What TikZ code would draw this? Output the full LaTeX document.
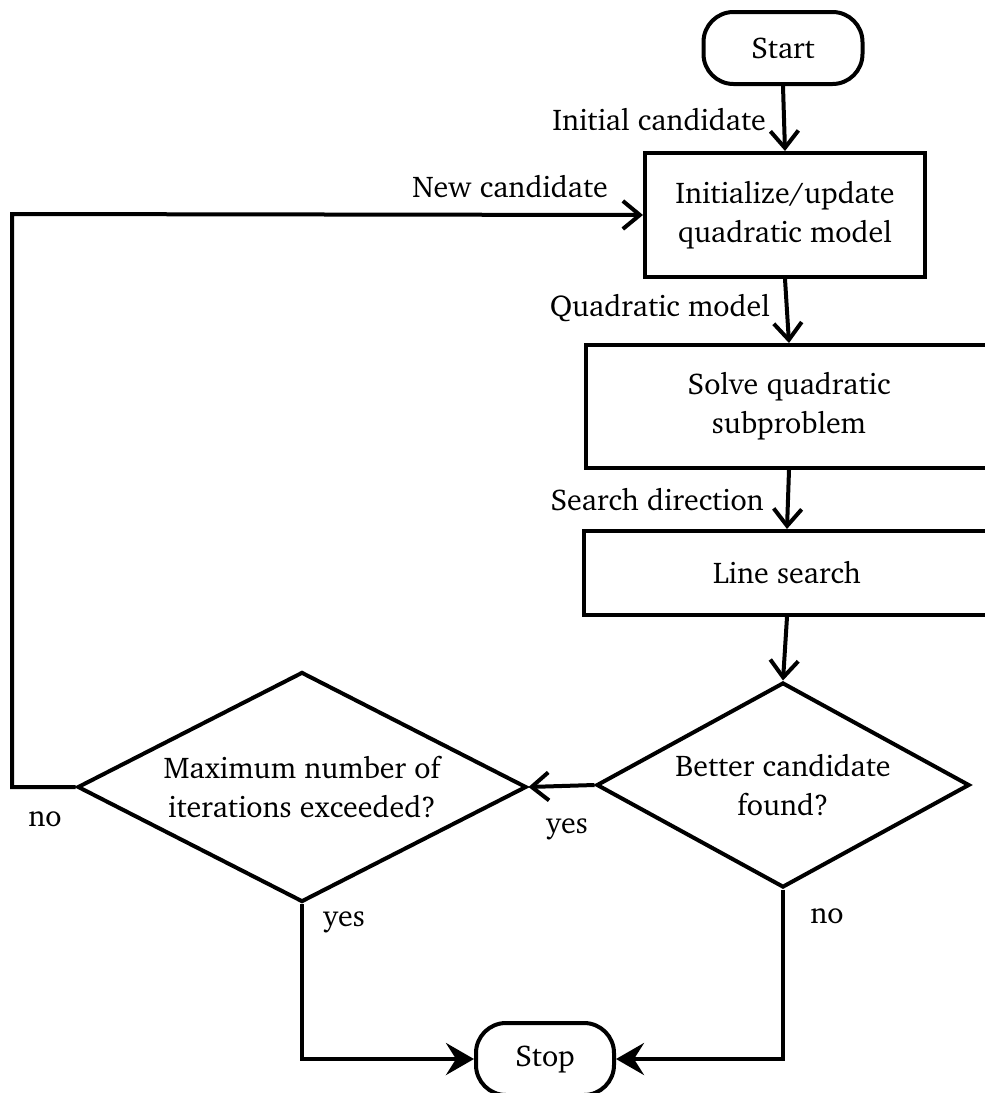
\documentclass[tikz,border=0pt]{standalone}
\usepackage[T1]{fontenc}
\usepackage{charter}
\usetikzlibrary{arrows.meta,shapes.geometric}
\begin{document}
\begin{tikzpicture}[x=1pt,y=-1pt,
  every node/.style={font=\fontsize{30}{39}\selectfont},
  base/.style={draw,line width=4pt,inner sep=0pt,align=center},
  termbox/.style={base,rectangle,rounded corners=30pt},
  procbox/.style={base,rectangle},
  decbox/.style={base,diamond},
  flow/.style={line width=4pt,-{Straight Barb[length=17pt,width=28pt,line width=4pt]}},
  stopflow/.style={line width=4pt,-{Stealth[length=28pt,width=32pt,inset=10pt]}},
  lbl/.style={inner sep=0pt}
]
\useasboundingbox (0,0) rectangle (985,1093);
\node[termbox,minimum width=159pt,minimum height=72pt] (start) at (783,48) {Start};
\node[procbox,minimum width=280pt,minimum height=124pt] (b1) at (785,215) {Initialize/update\\quadratic model};
\node[procbox,minimum width=406pt,minimum height=123pt] (b2) at (789,406.5) {Solve quadratic\\subproblem};
\node[procbox,minimum width=406pt,minimum height=84pt] (b3) at (787,573) {Line search};
\node[decbox,aspect=1.82,minimum width=373pt,minimum height=205pt] (d2) at (783,785) {Better candidate\\found?};
\node[decbox,aspect=1.95,minimum width=449pt,minimum height=230pt] (d1) at (302,787) {Maximum number of\\iterations exceeded?};
\node[termbox,minimum width=138pt,minimum height=72pt] (stop) at (545,1059) {Stop};
\coordinate (nl) at (12,787);
\coordinate (nu) at (12,214);
\coordinate (yb) at (302,1059);
\coordinate (nb) at (783,1059);

\draw[flow] (start.south) -- (b1.north);
\draw[flow] (b1.south) -- (b2.north);
\draw[flow] (b2.south) -- (b3.north);
\draw[flow] (b3.south) -- (d2.north);
\draw[flow] (d2.west) -- (d1.east);
\draw[flow] (d1.west) -- (nl) -- (nu) -- (b1.west);
\draw[stopflow] (d1.south) -- (yb) -- (stop.west);
\draw[stopflow] (d2.south) -- (nb) -- (stop.east);

\node[lbl,anchor=east] (l1) at (766,120) {Initial candidate};
\node[lbl,anchor=east] (l2) at (608,187) {New candidate};
\node[lbl,anchor=east] (l3) at (770,308) {Quadratic model};
\node[lbl,anchor=east] (l4) at (764,500) {Search direction};
\node[lbl] (l5) at (567,829) {yes};
\node[lbl] (l6) at (45,819) {no};
\node[lbl] (l7) at (344,922) {yes};
\node[lbl] (l8) at (827,916) {no};
\end{tikzpicture}
\end{document}
